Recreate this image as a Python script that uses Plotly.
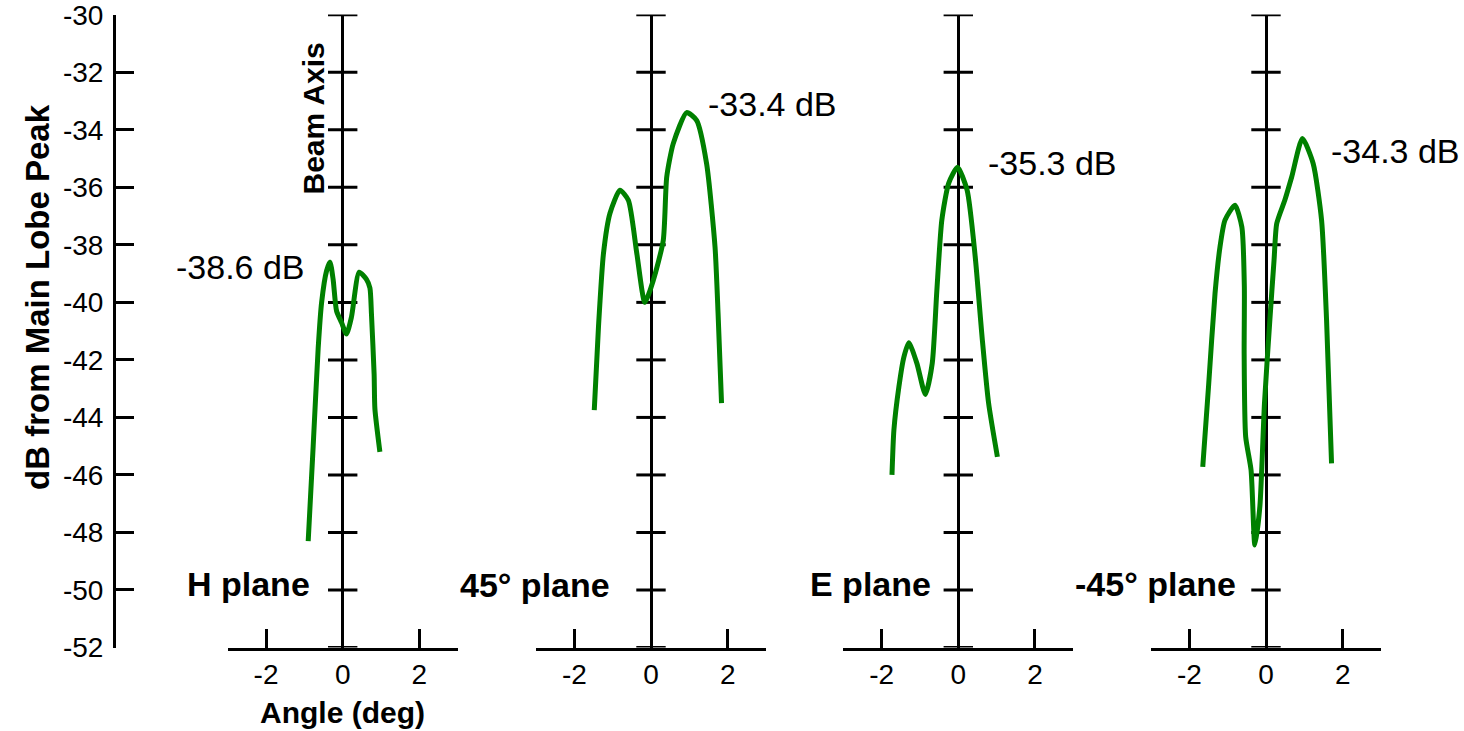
import plotly.graph_objects as go

# ---- data: sidelobe cuts, angle in degrees and level in dB from main-lobe peak ----
h_angle = [-0.90, -0.77, -0.64, -0.55, -0.42, -0.33, -0.25, -0.16, -0.03, 0.10, 0.23, 0.43, 0.62, 0.71, 0.75, 0.82, 0.84, 0.97]
h_db = [-48.3, -45.0, -41.6, -40.0, -38.9, -38.6, -39.2, -40.3, -40.7, -41.1, -40.5, -38.95, -39.2, -39.5, -40.4, -42.5, -43.7, -45.2]

d45_angle = [-1.48, -1.37, -1.24, -1.07, -0.81, -0.59, -0.37, -0.16, 0.06, 0.32, 0.41, 0.58, 0.93, 1.19, 1.45, 1.67, 1.75, 1.84]
d45_db = [-43.75, -40.85, -38.3, -36.9, -36.1, -36.45, -38.3, -40.0, -39.23, -37.84, -35.64, -34.48, -33.4, -33.67, -35.17, -38.07, -40.39, -43.5]

e_angle = [-1.73, -1.68, -1.55, -1.42, -1.29, -1.08, -0.86, -0.68, -0.56, -0.43, -0.25, -0.02, 0.23, 0.44, 0.62, 0.79, 1.02]
e_db = [-46.0, -44.44, -42.94, -41.9, -41.4, -42.12, -43.2, -42.12, -39.6, -37.14, -35.85, -35.3, -36.1, -38.4, -41.2, -43.5, -45.37]

m45_angle = [-1.65, -1.50, -1.33, -1.20, -1.07, -0.81, -0.63, -0.565, -0.57, -0.53, -0.39, -0.29, -0.16, -0.04, 0.10, 0.21, 0.28, 0.49, 0.67, 0.95, 1.23, 1.45, 1.58, 1.71]
m45_db = [-45.72, -42.94, -39.69, -38.07, -37.14, -36.62, -37.38, -39.46, -41.78, -44.67, -45.83, -48.44, -47.1, -43.51, -40.62, -38.53, -37.26, -36.45, -35.64, -34.3, -35.17, -37.14, -40.62, -45.6]

plane_names = ["H plane", "45\u00b0 plane", "E plane", "-45\u00b0 plane"]
peak_labels = ["-38.6 dB", "-33.4 dB", "-35.3 dB", "-34.3 dB"]

db_ticks = list(range(-52, -29, 2))
angle_ticks = [-2, 0, 2]
angle_range = [-3, 3]
db_range = [-52, -29.99]

# ---- layout geometry (pixels) ----
W, H = 1464, 731
PLOT_TOP, PLOT_BOTTOM = 14.5, 647.5
PANEL_CENTERS = [342.7, 651.0, 958.3, 1266.0]
PANEL_HALF = 115.0
YAXIS_X = 114.0

FONT = "Liberation Sans, Arial, Helvetica, sans-serif"
GREEN = "#008000"


def fx(px):
    return px / W


def fy(py):
    return 1 - py / H


series = [(h_angle, h_db), (d45_angle, d45_db), (e_angle, e_db), (m45_angle, m45_db)]

fig = go.Figure()

for i, (ang, db) in enumerate(series):
    xa = "x" if i == 0 else f"x{i + 1}"
    # beam-axis tick crosses
    fig.add_trace(go.Scatter(
        x=[0] * len(db_ticks), y=db_ticks, xaxis=xa, yaxis="y",
        mode="markers",
        marker=dict(symbol="line-ew", size=21, line=dict(color="black", width=3)),
        hoverinfo="skip", showlegend=False,
    ))
    fig.add_trace(go.Scatter(
        x=ang, y=db, xaxis=xa, yaxis="y", mode="lines",
        line=dict(color=GREEN, width=5, shape="spline", smoothing=0.6),
        showlegend=False,
    ))

layout = dict(
    width=W, height=H,
    margin=dict(l=0, r=0, t=0, b=0, autoexpand=False),
    paper_bgcolor="white", plot_bgcolor="rgba(0,0,0,0)",
    font=dict(family=FONT, color="black", size=28),
    yaxis=dict(
        domain=[fy(PLOT_BOTTOM), fy(PLOT_TOP)],
        range=db_range, anchor="free", position=fx(YAXIS_X),
        automargin=False,
        tickvals=db_ticks, ticktext=[str(v) for v in db_ticks],
        ticks="inside", ticklen=18, tickwidth=3, tickcolor="black",
        showline=True, linewidth=3, linecolor="black",
        showgrid=False, zeroline=False,
        ticklabeloverflow="allow", ticklabelstandoff=4,
        tickfont=dict(size=28, family=FONT),
    ),
)

for i, c in enumerate(PANEL_CENTERS):
    key = "xaxis" if i == 0 else f"xaxis{i + 1}"
    layout[key] = dict(
        domain=[fx(c - PANEL_HALF), fx(c + PANEL_HALF)],
        range=angle_range, anchor="y",
        automargin=False,
        tickvals=angle_ticks, ticktext=[str(v) for v in angle_ticks],
        ticks="inside", ticklen=19, tickwidth=3, tickcolor="black",
        showline=True, linewidth=3, linecolor="black",
        showgrid=False,
        zeroline=True, zerolinecolor="black", zerolinewidth=3,
        tickfont=dict(size=28, family=FONT),
    )

fig.update_layout(**layout)

annotations = []

# peak level labels
label_pos = [(306.7, 267.5, "right"), (706.0, 104.0, "left"), (986.0, 162.5, "left"), (1329.0, 151.0, "left")]
for text, (px, py, anchor) in zip(peak_labels, label_pos):
    annotations.append(dict(
        text=text, xref="paper", yref="paper", x=fx(px), y=fy(py),
        xanchor=anchor, yanchor="middle", showarrow=False,
        font=dict(size=34, family=FONT),
    ))

# plane names
plane_pos = [(185.0, 584.0), (458.0, 585.0), (808.0, 584.0), (1072.7, 584.0)]
for text, (px, py) in zip(plane_names, plane_pos):
    annotations.append(dict(
        text=f"<b>{text}</b>", xref="paper", yref="paper", x=fx(px), y=fy(py),
        xanchor="left", yanchor="middle", showarrow=False,
        font=dict(size=34, family=FONT),
    ))

# axis titles
annotations.append(dict(
    text="<b>dB from Main Lobe Peak</b>", xref="paper", yref="paper",
    x=fx(38), y=fy(297), xanchor="center", yanchor="middle",
    textangle=-90, showarrow=False, font=dict(size=33, family=FONT),
))
annotations.append(dict(
    text="<b>Beam Axis</b>", xref="paper", yref="paper",
    x=fx(312.5), y=fy(119), xanchor="center", yanchor="middle",
    textangle=-90, showarrow=False, font=dict(size=30, family=FONT),
))
annotations.append(dict(
    text="<b>Angle (deg)</b>", xref="paper", yref="paper",
    x=fx(342.0), y=fy(712), xanchor="center", yanchor="middle",
    showarrow=False, font=dict(size=30, family=FONT),
))

fig.update_layout(annotations=annotations)

fig.write_html("out.html")
